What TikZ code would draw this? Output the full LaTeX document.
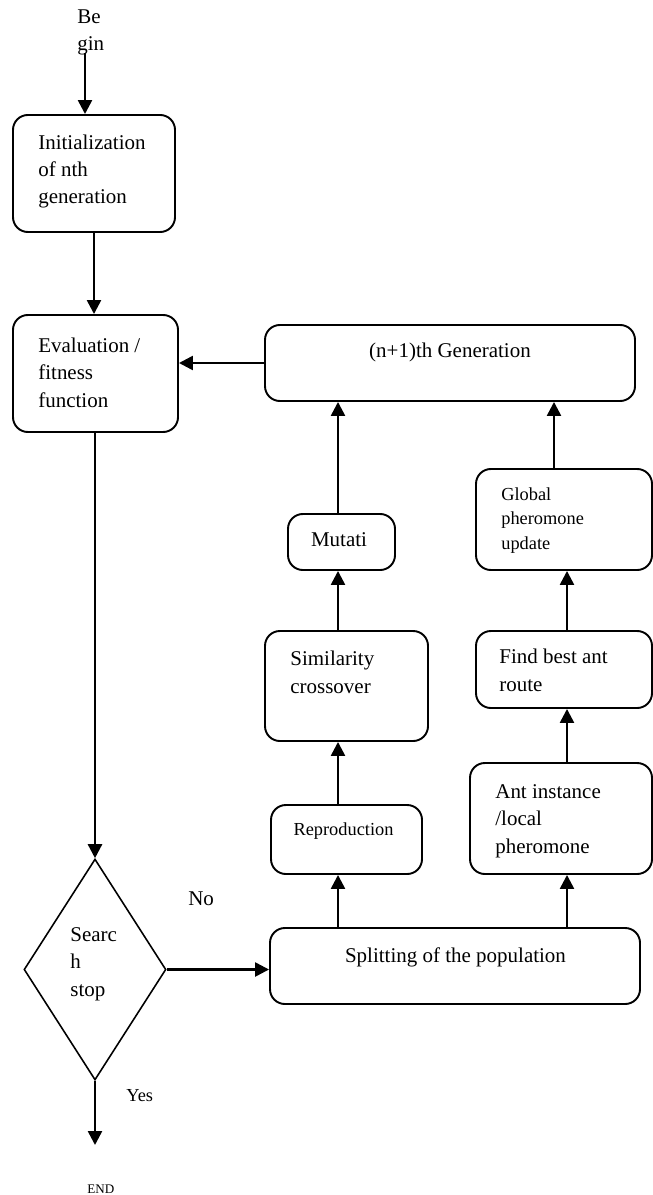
\documentclass[tikz,border=0pt]{standalone}
\usepackage{fontspec}
\setmainfont{Liberation Serif}
\usetikzlibrary{arrows.meta, shapes.geometric}

\newcommand{\pxu}{0.572pt}
\tikzset{
  flowbox/.style={draw, line width=1.1pt, rounded corners=8.5pt, inner sep=0pt},
  flowline/.style={line width=1.4pt, -{Triangle[length=8pt, width=8pt]}},
  txt/.style={inner sep=0pt, anchor=base west, align=left, font=\fontsize{12}{15.7}\selectfont},
  smalltxt/.style={txt, font=\fontsize{10.5}{14}\selectfont},
}

\begin{document}
\begin{tikzpicture}[x=0.572pt, y=-0.572pt]
\useasboundingbox (0,0) rectangle (653,1195);

% boxes
\node[flowbox, minimum width=162*\pxu, minimum height=117*\pxu] (init) at (94,173.5) {};
\node[flowbox, minimum width=165*\pxu, minimum height=117*\pxu] (eval) at (95.5,373.5) {};
\node[flowbox, minimum width=370*\pxu, minimum height=76*\pxu] (gen) at (450,363) {};
\node[flowbox, minimum width=107*\pxu, minimum height=56*\pxu] (mut) at (341.5,542) {};
\node[flowbox, minimum width=163*\pxu, minimum height=110*\pxu] (sim) at (346.5,686) {};
\node[flowbox, minimum width=151*\pxu, minimum height=69*\pxu] (repro) at (346.5,839.5) {};
\node[flowbox, minimum width=176*\pxu, minimum height=101*\pxu] (glob) at (564,519.5) {};
\node[flowbox, minimum width=176*\pxu, minimum height=77*\pxu] (find) at (564,669.5) {};
\node[flowbox, minimum width=182*\pxu, minimum height=111*\pxu] (ant) at (561,818.5) {};
\node[flowbox, minimum width=370*\pxu, minimum height=76*\pxu] (split) at (455,966) {};
\node[draw, diamond, line width=0.9pt, inner sep=0pt, minimum width=142*\pxu, minimum height=221*\pxu] (stop) at (95,969.5) {};

% texts (multi-line ones sit on their last baseline)
\node[txt] (begintxt) at (77,50.5) {Be\\gin};
\node[txt] (inittxt) at (38,204) {Initialization\\of nth\\generation};
\node[txt] (evaltxt) at (38,407) {Evaluation /\\fitness\\function};
\node[txt, anchor=base] (gentxt) at (450,358) {(n+1)th Generation};
\node[txt, anchor=base] (muttxt) at (339,546) {Mutati};
\node[txt] (simtxt) at (290,693) {Similarity\\crossover};
\node[smalltxt, anchor=base] (reprotxt) at (343.5,835) {Reproduction};
\node[smalltxt] (globtxt) at (501,549) {Global\\pheromone\\update};
\node[txt] (findtxt) at (499,691) {Find best ant\\route};
\node[txt] (anttxt) at (495,853) {Ant instance\\/local\\pheromone};
\node[txt, anchor=base] (splittxt) at (455.5,962) {Splitting of the population};
\node[txt] (stoptxt) at (70,996) {Searc\\h\\stop};
\node[txt] (notxt) at (188,905) {No};
\node[smalltxt] (yestxt) at (126,1101) {Yes};
\node[txt, font=\fontsize{7.5}{9}\selectfont] (endtxt) at (87,1193) {END};

% connectors
\coordinate (bstart) at (85,53);
\coordinate (endtip) at (95,1145);
\coordinate (lcol) at (338,0);
\coordinate (rcol) at (567,0);
\coordinate (rtop) at (554,0);
\draw[flowline] (bstart) -- (bstart |- init.north);
\draw[flowline] (init.south) -- (init.south |- eval.north);
\draw[flowline] (gen.west) -- (gen.west -| eval.east);
\draw[flowline] (stop.north |- eval.south) -- (stop.north);
\draw[flowline] (stop.east) -- (stop.east -| split.west);
\draw[flowline] (stop.south) -- (endtip);
\foreach \a/\b in {split/repro, repro/sim, sim/mut, mut/gen}
  \draw[flowline] (lcol |- \a.north) -- (lcol |- \b.south);
\foreach \a/\b in {split/ant, ant/find, find/glob}
  \draw[flowline] (rcol |- \a.north) -- (rcol |- \b.south);
\draw[flowline] (rtop |- glob.north) -- (rtop |- gen.south);

\end{tikzpicture}
\end{document}
